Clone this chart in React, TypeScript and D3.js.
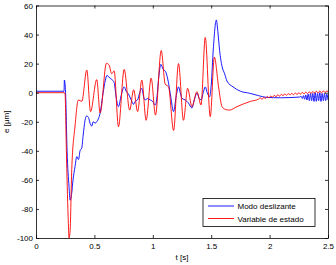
import * as d3 from 'd3';
import React, { useRef, useEffect } from 'react';

// time [s] and error [um]
const tBlue = [0, 0.24, 0.243, 0.253, 0.266, 0.283, 0.292, 0.306, 0.317, 0.334, 0.349, 0.364, 0.377, 0.392, 0.403, 0.42, 0.433, 0.449, 0.463, 0.478, 0.489, 0.506, 0.52, 0.534, 0.549, 0.575, 0.592, 0.609, 0.62, 0.635, 0.65, 0.669, 0.686, 0.706, 0.729, 0.755, 0.772, 0.792, 0.815, 0.835, 0.849, 0.869, 0.888, 0.906, 0.922, 0.935, 0.956, 0.978, 0.999, 1.021, 1.033, 1.05, 1.069, 1.089, 1.106, 1.135, 1.154, 1.178, 1.201, 1.22, 1.235, 1.25, 1.278, 1.304, 1.335, 1.355, 1.378, 1.398, 1.413, 1.432, 1.449, 1.466, 1.486, 1.5, 1.518, 1.544, 1.557, 1.572, 1.593, 1.615, 1.635, 1.687, 1.75, 1.83, 1.904, 1.973, 2.093, 2.256, 2.27, 2.28, 2.29, 2.3, 2.31, 2.32, 2.33, 2.34, 2.35, 2.36, 2.37, 2.38, 2.39, 2.4, 2.41, 2.42, 2.43, 2.44, 2.45, 2.46, 2.47, 2.48, 2.49, 2.5];
const eBlue = [1, 1, 8.7, 0, -40, -65, -74, -69, -60, -51, -44, -46, -40, -38, -30, -19, -16, -17, -21, -23, -20, -21, -20, -18, -14, 0, 8, 12, 11, 10, 9, 7, -3, -9.6, -2, 4, 1, -1, -5, -8, -6, -5, 0, 3, -3, -5, -4, -5, -6, -8.5, -5, 10, 19.5, 16, 15, 6.5, -3, -13, -2, 4, 0, -4, -5, -7, -10.5, -5, -0.4, -4, -5, 0, 4, 0, -2.8, 5, 30, 50, 42, 29, 18, 13, 8, 4, 1, -0.4, -2, -3.2, -3.5, -3, -2.5, -4, -2, -4.5, -1.5, -5, -1, -5.5, -0.5, -5.5, -0.5, -6, 0, -6, -0.5, -5.5, 0, -6, -0.5, -5.5, -0.5, -5.5, -1, -5, -1.5, -4.5];

const tRed = [0, 0.244, 0.249, 0.26, 0.275, 0.283, 0.292, 0.306, 0.334, 0.363, 0.392, 0.435, 0.467, 0.52, 0.549, 0.603, 0.626, 0.648, 0.669, 0.706, 0.755, 0.802, 0.836, 0.87, 0.906, 0.943, 0.986, 1.023, 1.072, 1.106, 1.135, 1.178, 1.22, 1.263, 1.298, 1.335, 1.378, 1.413, 1.449, 1.492, 1.527, 1.563, 1.593, 1.621, 1.655, 1.721, 1.835, 1.904, 1.92, 1.935, 1.95, 1.965, 1.98, 1.995, 2.01, 2.025, 2.04, 2.055, 2.07, 2.085, 2.1, 2.115, 2.13, 2.145, 2.16, 2.175, 2.19, 2.205, 2.22, 2.235, 2.25, 2.265, 2.28, 2.295, 2.31, 2.325, 2.34, 2.355, 2.37, 2.385, 2.4, 2.415, 2.43, 2.445, 2.46, 2.475, 2.49, 2.5];
const eRed = [0, 0, -1, -40, -85, -100, -95, -53, -23, -5, -6, 15.6, -13, 9, -14, 20.2, 19, 13, 15, -23.4, 16, -12, 2, -13, 8.7, -19, 10, -15.4, 29, 6, 4, -26, 20, -19, 3, -9.6, 0.7, -8.5, 38, -16.5, 24.5, 4, -9.6, -11.5, -12, -9.6, -6, -4.5, -3.6, -4.6, -3.2, -4, -2.6, -3.6, -2.2, -3.2, -1.8, -2.8, -1.4, -2.4, -1.1, -2.1, -0.8, -1.8, -0.6, -1.6, -0.4, -1.4, -0.2, -1.2, 0, -1, 0.2, -0.8, 0.4, -0.6, 0.6, -0.5, 0.8, -0.3, 1, -0.2, 1.2, -0.1, 1.3, 0, 1.4, 0.5];

const xTicks = [0, 0.5, 1, 1.5, 2, 2.5];
const yTicks = [-100, -80, -60, -40, -20, 0, 20, 40, 60];
const legendLabels = ['Modo deslizante', 'Variable de estado'];
const colors = ['#0000ff', '#ff0000'];

const W = 336, H = 265;
const margin = { top: 5.5, right: 8, bottom: 27, left: 36 };

const App = () => {
  const ref = useRef<SVGSVGElement>(null);

  const x = d3.scaleLinear().domain([0, 2.5]).range([margin.left, W - margin.right]);
  const y = d3.scaleLinear().domain([-100, 60]).range([H - margin.bottom, margin.top]);

  const line = d3.line<[number, number]>()
    .x((d) => x(d[0]))
    .y((d) => y(d[1]))
    .curve(d3.curveMonotoneX);

  const blue = tBlue.map((t, i) => [t, eBlue[i]] as [number, number]);
  const red = tRed.map((t, i) => [t, eRed[i]] as [number, number]);

  useEffect(() => {
    const svg = d3.select(ref.current);
    svg.selectAll('.ax').remove();
    const font = '"Liberation Sans", Arial, sans-serif';

    svg.append('g').attr('class', 'ax')
      .attr('transform', 'translate(0,' + (H - margin.bottom) + ')')
      .call(d3.axisBottom(x).tickValues(xTicks).tickSize(-3).tickSizeOuter(0).tickPadding(5).tickFormat((d) => String(d)));
    svg.append('g').attr('class', 'ax')
      .attr('transform', 'translate(' + margin.left + ',0)')
      .call(d3.axisLeft(y).tickValues(yTicks).tickSize(-3).tickSizeOuter(0).tickPadding(3).tickFormat((d) => String(d)));
    svg.append('g').attr('class', 'ax')
      .attr('transform', 'translate(0,' + margin.top + ')')
      .call(d3.axisTop(x).tickValues(xTicks).tickSize(-3).tickSizeOuter(0).tickFormat(() => ''));
    svg.append('g').attr('class', 'ax')
      .attr('transform', 'translate(' + (W - margin.right) + ',0)')
      .call(d3.axisRight(y).tickValues(yTicks).tickSize(-3).tickSizeOuter(0).tickFormat(() => ''));

    svg.selectAll('.ax text').style('font-family', font).style('font-size', '8px').attr('fill', '#000');
    svg.selectAll('.ax path, .ax line').attr('stroke', '#000').attr('stroke-width', 0.8);
  });

  return (
    <svg ref={ref} width={W} height={H} style={{ position: 'absolute', left: 0, top: 0, background: '#fff' }}
      fontFamily='"Liberation Sans", Arial, sans-serif'>
      <rect x={0} y={0} width={W} height={H} fill="#fff" />
      <path d={line(blue) || ''} fill="none" stroke={colors[0]} strokeWidth={0.9} />
      <path d={line(red) || ''} fill="none" stroke={colors[1]} strokeWidth={0.9} />

      <text x={(x(0) + x(2.5)) / 2} y={260} fontSize={8} textAnchor="middle">t [s]</text>
      <text transform={`translate(9,${(y(-100) + y(60)) / 2}) rotate(-90)`} fontSize={8} textAnchor="middle">e [μm]</text>

      <g>
        <rect x={203} y={198.5} width={112} height={28} fill="#fff" stroke="#000" strokeWidth={0.8} />
        {legendLabels.map((l, i) => (
          <g key={l}>
            <line x1={208} x2={234} y1={206 + i * 12.5} y2={206 + i * 12.5} stroke={colors[i]} strokeWidth={0.9} />
            <text x={237.5} y={206 + i * 12.5 + 3} fontSize={8}>{l}</text>
          </g>
        ))}
      </g>
    </svg>
  );
};

export default App;
